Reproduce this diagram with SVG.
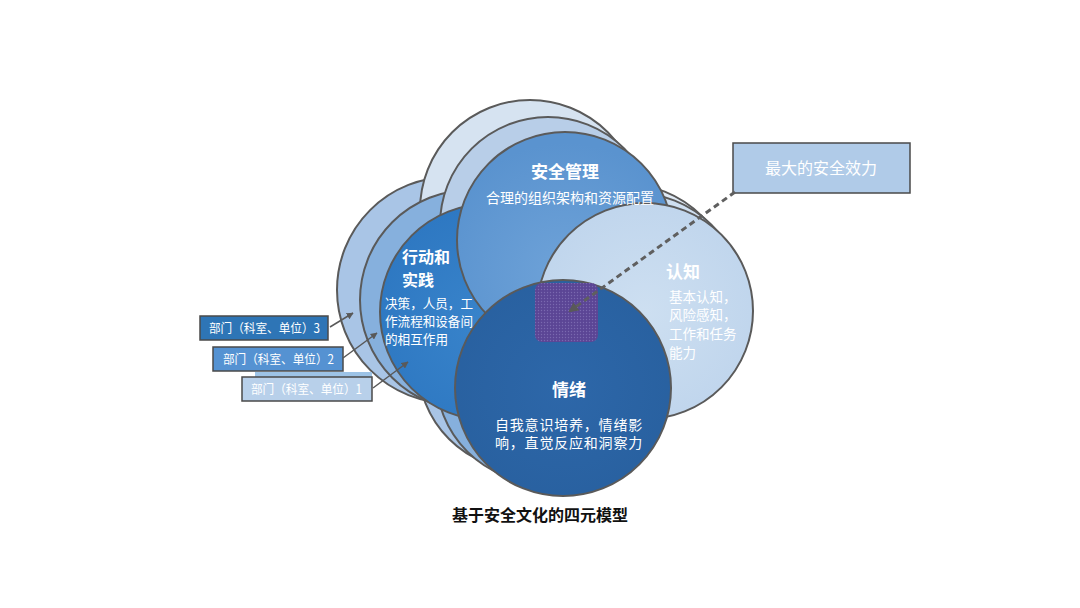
<svg xmlns="http://www.w3.org/2000/svg" width="1080" height="608" viewBox="0 0 1080 608">
<style>
.c{stroke:#5a5a5a;stroke-width:2}
.t{font-family:"Noto Sans CJK SC","Noto Sans",sans-serif;fill:#ffffff}
.h{font-size:17px;font-weight:bold}
.b{font-size:14px}
.lb{font-family:"Noto Sans CJK SC","Noto Sans",sans-serif;fill:#ffffff;font-size:12.5px}
.bx{stroke:#4a4a4a;stroke-width:1.5}
.ar{stroke:#595959;stroke-width:1.5;fill:none}
</style>
<defs>
<marker id="ah" viewBox="0 0 10 10" refX="9" refY="5" markerWidth="7" markerHeight="7" orient="auto" markerUnits="userSpaceOnUse">
<path d="M0,0 L10,5 L0,10 z" fill="#595959"/>
</marker>
<marker id="ah2" viewBox="0 0 10 10" refX="8" refY="5" markerWidth="10" markerHeight="10" orient="auto" markerUnits="userSpaceOnUse">
<path d="M0,0 L10,5 L0,10 z" fill="#595959"/>
</marker>
<radialGradient id="gT" cx="50%" cy="65%" r="60%"><stop offset="0" stop-color="#6ea2d8"/><stop offset="1" stop-color="#5a93cf"/></radialGradient>
<radialGradient id="gL" cx="50%" cy="55%" r="60%"><stop offset="0" stop-color="#3984cb"/><stop offset="1" stop-color="#2d77c1"/></radialGradient>
<radialGradient id="gR" cx="50%" cy="50%" r="60%"><stop offset="0" stop-color="#cddff1"/><stop offset="1" stop-color="#bed4ec"/></radialGradient>
<radialGradient id="gE" cx="50%" cy="50%" r="60%"><stop offset="0" stop-color="#2d67a9"/><stop offset="1" stop-color="#28609f"/></radialGradient>
<pattern id="dots" width="3" height="3" patternUnits="userSpaceOnUse">
<rect width="3" height="3" fill="#5b4595"/>
<circle cx="1.5" cy="1.5" r="0.7" fill="#7a68b0"/>
</pattern>
</defs>
<rect width="1080" height="608" fill="#ffffff"/>

<g id="layer1">
<circle class="c" cx="450" cy="290" r="113" fill="#a9c5e6"/>
<circle class="c" cx="530" cy="210" r="110" fill="#d6e3f1"/>
<circle class="c" cx="625" cy="292" r="108" fill="#dfe9f4"/>
<circle class="c" cx="524" cy="364" r="106" fill="#a9c5e6"/>
</g>
<g id="layer2">
<circle class="c" cx="470" cy="300" r="110" fill="#86b0dd"/>
<circle class="c" cx="548" cy="225" r="108" fill="#b8cee8"/>
<circle class="c" cx="635" cy="301" r="108" fill="#cfdff0"/>
<circle class="c" cx="543" cy="376" r="107" fill="#86b0dd"/>
</g>

<g id="node-action">
<circle class="c" cx="488" cy="312" r="108" fill="url(#gL)"/>
</g>
<g id="node-management">
<circle class="c" cx="565" cy="240" r="108" fill="url(#gT)"/>
</g>
<g id="node-cognition">
<circle class="c" cx="645" cy="311" r="108" fill="url(#gR)"/>
</g>
<g id="node-emotion">
<circle class="c" cx="563" cy="388" r="108" fill="url(#gE)"/>
</g>
<g id="node-max">
<rect x="535" y="283" width="63" height="59" rx="7" fill="url(#dots)"/>
</g>

<g id="labels-text">
<text class="t h" x="565" y="178" text-anchor="middle">安全管理</text>
<text class="t b" x="570" y="203" text-anchor="middle" font-size="14.5">合理的组织架构和资源配置</text>
<text class="t" font-size="16" font-weight="bold"><tspan x="402" y="263">行动和</tspan><tspan x="402" y="286">实践</tspan></text>
<text class="t" font-size="13"><tspan x="385" y="308" textLength="88" lengthAdjust="spacingAndGlyphs">决策，人员，工</tspan><tspan x="385" y="326" textLength="88" lengthAdjust="spacingAndGlyphs">作流程和设备间</tspan><tspan x="385" y="344" textLength="63" lengthAdjust="spacingAndGlyphs">的相互作用</tspan></text>
<text class="t h" x="666" y="278">认知</text>
<text class="t" font-size="13.5"><tspan x="669" y="302">基本认知，</tspan><tspan x="669" y="320">风险感知，</tspan><tspan x="669" y="339">工作和任务</tspan><tspan x="669" y="358">能力</tspan></text>
<text class="t h" x="569" y="396" text-anchor="middle">情绪</text>
<text class="t b" text-anchor="middle" letter-spacing="0.8"><tspan x="569" y="430">自我意识培养，情绪影</tspan><tspan x="569" y="448">响，直觉反应和洞察力</tspan></text>
</g>

<g id="box-effect">
<rect class="bx" x="733" y="143" width="177" height="50" fill="#b0cbe8" stroke-width="2"/>
<text class="t" x="821" y="174" text-anchor="middle" font-size="16">最大的安全效力</text>
</g>

<g id="dept3">
<rect class="bx" x="200" y="316" width="128" height="24" fill="#2e75b6"/>
<text class="lb" x="209" y="333" textLength="111" lengthAdjust="spacingAndGlyphs">部门（科室、单位）3</text>
</g>
<g id="dept2">
<rect class="bx" x="213" y="347" width="130" height="24" fill="#5592d2"/>
<text class="lb" x="223" y="364" textLength="111" lengthAdjust="spacingAndGlyphs">部门（科室、单位）2</text>
</g>
<g id="dept1">
<rect x="255" y="372" width="117" height="5" fill="#9dc3e6"/>
<rect class="bx" x="242" y="377" width="130" height="24" fill="#b8d0ea"/>
<text class="lb" x="251" y="394" textLength="111" lengthAdjust="spacingAndGlyphs">部门（科室、单位）1</text>
</g>

<g id="connectors">
<line class="ar" x1="330" y1="327" x2="353" y2="313" marker-end="url(#ah)"/>
<line class="ar" x1="343" y1="358" x2="377" y2="333" marker-end="url(#ah)"/>
<line class="ar" x1="373" y1="388" x2="408" y2="362" marker-end="url(#ah)"/>
<line x1="735" y1="192" x2="570" y2="311" stroke="#5f5f5f" stroke-width="3" stroke-dasharray="6 4" marker-end="url(#ah2)"/>
</g>

<text x="540" y="521" text-anchor="middle" font-family="Noto Sans CJK SC, Noto Sans, sans-serif" font-size="16" font-weight="bold" fill="#111111">基于安全文化的四元模型</text>
</svg>
